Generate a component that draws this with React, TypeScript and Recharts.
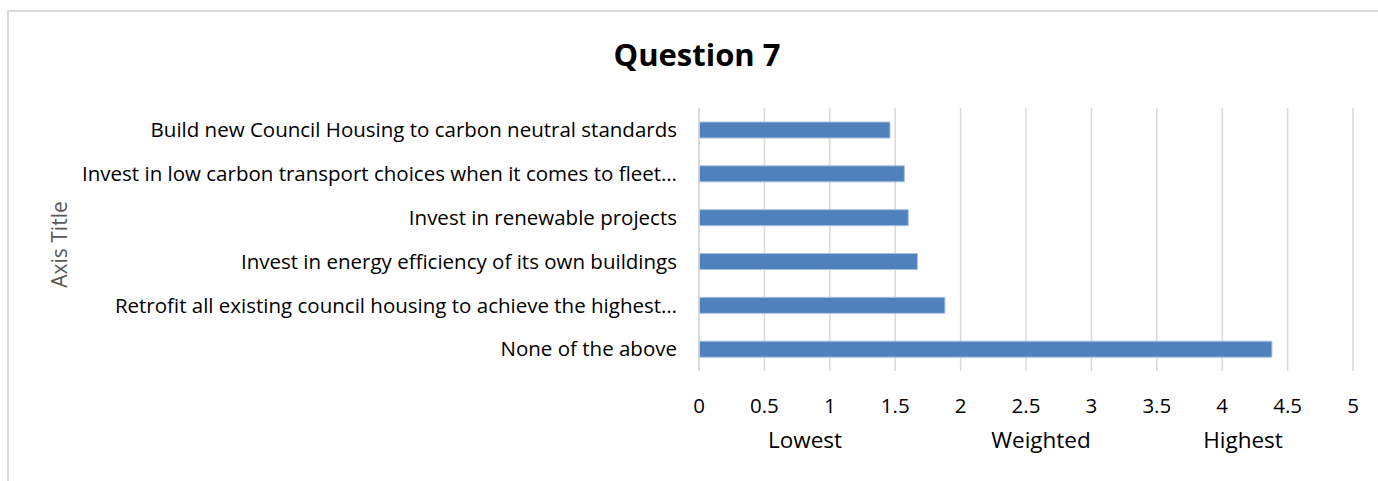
import { BarChart, Bar, XAxis, YAxis, CartesianGrid, Label } from "recharts";

const categories = [
  "None of the above",
  "Retrofit all existing council housing to achieve the highest…",
  "Invest in energy efficiency of its own buildings",
  "Invest in renewable projects",
  "Invest in low carbon transport choices when it comes to fleet…",
  "Build new Council Housing to carbon neutral standards",
];
const weighted = [4.38, 1.88, 1.67, 1.6, 1.57, 1.46];
const xTicks = [0, 0.5, 1, 1.5, 2, 2.5, 3, 3.5, 4, 4.5, 5];
const xTitleParts = ["Lowest", "Weighted", "Highest"];

const FONT = "'Open Sans', sans-serif";

export default function App() {
  // top-to-bottom order in the picture is the reverse of the category list
  const data = categories.map((c, i) => ({ label: c, value: weighted[i] })).reverse();

  return (
    <div style={{ position: "absolute", left: 0, top: 0, width: 1378, height: 481, overflow: "hidden", background: "#fff", fontFamily: FONT }}>
      <div style={{ position: "absolute", left: 7, top: 10, width: 1400, height: 500, borderLeft: "2px solid #d9d9d9", borderTop: "2px solid #d9d9d9" }} />
      <div style={{ position: "absolute", left: 0, top: 33, width: 1394, textAlign: "center", fontSize: 31, fontWeight: 700, color: "#000" }}>
        Question 7
      </div>
      <div style={{ position: "absolute", left: 0, top: 0 }}>
        <BarChart width={1378} height={481} data={data} layout="vertical" margin={{ top: 108, right: 25, bottom: 80, left: 0 }}>
          <CartesianGrid stroke="#d9d9d9" strokeWidth={1.5} horizontal={false} />
          <XAxis
            type="number"
            domain={[0, 5]}
            ticks={xTicks}
            axisLine={false}
            tickLine={false}
            tickMargin={21}
            tick={{ fill: "#000", fontSize: 20.5, fontFamily: FONT }}
          >
            <Label
              content={({ viewBox }: any) => {
                const vb = viewBox || { x: 699, y: 370, width: 654 };
                const offsets = [106, 342, 544];
                return (
                  <g>
                    {xTitleParts.map((t, i) => (
                      <text key={t} x={vb.x + offsets[i]} y={448} textAnchor="middle" fontSize={22.5} fontFamily={FONT} fill="#000">
                        {t}
                      </text>
                    ))}
                  </g>
                );
              }}
            />
          </XAxis>
          <YAxis
            type="category"
            dataKey="label"
            width={699}
            axisLine={{ stroke: "#d9d9d9", strokeWidth: 1.5 }}
            tickLine={false}
            tickMargin={16}
            interval={0}
            tick={{ fill: "#000", fontSize: 20.5, fontFamily: FONT }}
          >
            <Label
              content={({ viewBox }: any) => {
                const vb = viewBox || { y: 108, height: 263 };
                const cy = vb.y + vb.height / 2 + 5;
                return (
                  <text x={67} y={cy} transform={`rotate(-90, 67, ${cy})`} textAnchor="middle" fontSize={21} fontFamily={FONT} fill="#595959">
                    Axis Title
                  </text>
                );
              }}
            />
          </YAxis>
          <Bar dataKey="value" fill="#4f81bd" stroke="#a9c0e0" strokeWidth={1} barSize={16} isAnimationActive={false} />
        </BarChart>
      </div>
    </div>
  );
}
